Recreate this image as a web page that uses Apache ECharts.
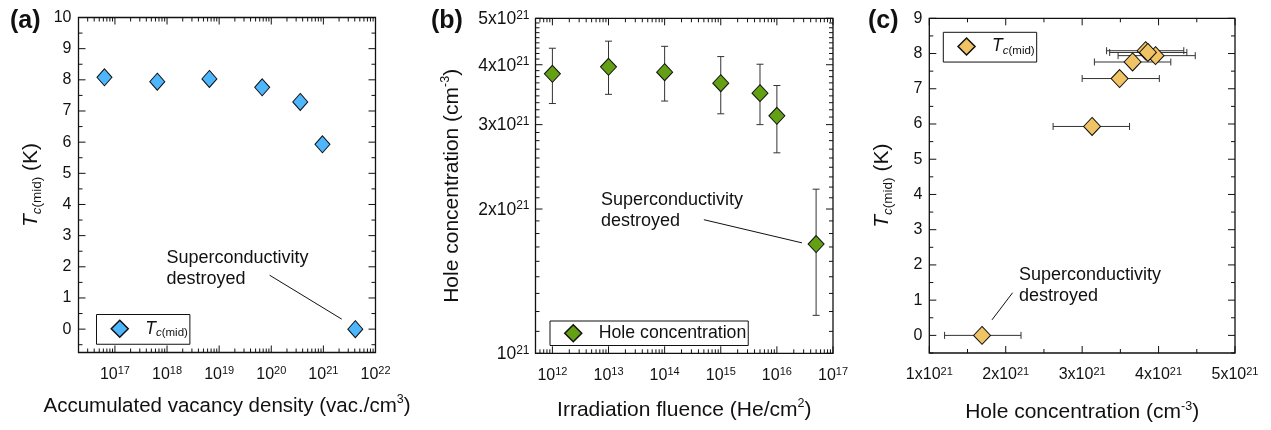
<!DOCTYPE html>
<html>
<head>
<meta charset="utf-8">
<script src="https://cdn.jsdelivr.net/npm/echarts@6/dist/echarts.min.js"></script>
<style>
  html, body { margin: 0; padding: 0; background: #fff; }
  #chart { width: 1271px; height: 430px; }
</style>
</head>
<body>
<div id="chart"></div>
<script>
// values, one entry per sample
const vacancyDensity = [6.3e16, 6.5e17, 6.5e18, 6.7e19, 3.6e20, 9.6e20, 4.1e21]
const fluence = [1e12, 1e13, 1e14, 1e15, 5e15, 1e16, 5e16]
const tcMid = [8.08, 7.94, 8.03, 7.76, 7.29, 5.93, 0]
const holeConc = [3.83e21, 3.96e21, 3.86e21, 3.66e21, 3.49e21, 3.13e21, 1.69e21]
const holeLow = [3.32e21, 3.47e21, 3.36e21, 3.16e21, 3.0e21, 2.62e21, 1.2e21]
const holeHigh = [4.33e21, 4.48e21, 4.37e21, 4.16e21, 4.01e21, 3.62e21, 2.2e21]

// leader lines of the "destroyed" notes (data units)
const noteA = [[9.3e19, 1.73], [2.25e21, 0.32]]
const noteB = [[5e14, 1.9e21], [2.8e16, 1.7e21]]
const noteC = [[2.09e21, 1.21], [1.82e21, 0.44]]

// ticks
const aXMajor = [1e17, 1e18, 1e19, 1e20, 1e21, 1e22]
const aYMajor = [0, 1, 2, 3, 4, 5, 6, 7, 8, 9, 10]
const aYMinor = [-0.5, 0.5, 1.5, 2.5, 3.5, 4.5, 5.5, 6.5, 7.5, 8.5, 9.5]
const bXMajor = [1e12, 1e13, 1e14, 1e15, 1e16, 1e17]
const bYMajor = [1e21, 2e21, 3e21, 4e21, 5e21]
const bYLabels = ['{b|10}{s|21}', '{b|2x10}{s|21}', '{b|3x10}{s|21}', '{b|4x10}{s|21}', '{b|5x10}{s|21}']
const cXMajor = [1e21, 2e21, 3e21, 4e21, 5e21]
const cXMinor = [1.5e21, 2.5e21, 3.5e21, 4.5e21]
const cYMajor = [0, 1, 2, 3, 4, 5, 6, 7, 8, 9]
const cYMinor = [-0.5, 0.5, 1.5, 2.5, 3.5, 4.5, 5.5, 6.5, 7.5, 8.5]

const FONT = '"Liberation Sans", Arial, Helvetica, sans-serif'
const INK = '#111'

// 2..9 x 10^n between lo and hi
const logMinor = (lo, hi) => {
  const out = []
  for (let e = Math.floor(Math.log10(lo)); e < Math.ceil(Math.log10(hi)); e++) {
    for (let m = 2; m <= 9; m++) {
      const v = m * Math.pow(10, e)
      if (v > lo && v < hi) out.push(v)
    }
  }
  return out
}
const aXMinor = logMinor(2e16, 1e22)
const bXMinor = logMinor(5e11, 1e17)
// 8 minor ticks between the 1..5 x 10^21 labels
const bYMinor = []
for (let i = 0; i < bYMajor.length - 1; i++) {
  for (let k = 1; k <= 8; k++) bYMinor.push(bYMajor[i] + (k * (bYMajor[i + 1] - bYMajor[i])) / 9)
}

const isInt = (v) => Math.abs(v - Math.round(v)) < 1e-6
const expLabel = (v) => {
  const e = Math.log10(v)
  return isInt(e) ? `{b|10}{s|${Math.round(e)}}` : ''
}

const tickRich = {
  b: { fontSize: 16, lineHeight: 18, fontFamily: FONT, color: INK },
  s: { fontSize: 11, lineHeight: 11, verticalAlign: 'top', fontFamily: FONT, color: INK },
}
const nameRich = {
  t: { fontSize: 21, lineHeight: 27, fontStyle: 'italic', fontFamily: FONT, color: INK },
  c: { fontSize: 13.5, lineHeight: 14, fontStyle: 'italic', verticalAlign: 'bottom', fontFamily: FONT, color: INK },
  m: { fontSize: 13.5, lineHeight: 14, verticalAlign: 'bottom', fontFamily: FONT, color: INK },
  k: { fontSize: 21, lineHeight: 27, fontFamily: FONT, color: INK },
  s: { fontSize: 12.5, lineHeight: 12, verticalAlign: 'top', fontFamily: FONT, color: INK },
}
const legendRich = {
  p: { width: 12 },
  t: { fontSize: 17.5, lineHeight: 21, fontStyle: 'italic', fontFamily: FONT, color: INK },
  c: { fontSize: 11.5, lineHeight: 12, fontStyle: 'italic', verticalAlign: 'bottom', fontFamily: FONT, color: INK },
  m: { fontSize: 11.5, lineHeight: 12, verticalAlign: 'bottom', fontFamily: FONT, color: INK },
  h: { fontSize: 17.7, lineHeight: 18, fontFamily: FONT, color: INK },
}

const tickSeries = (grid, dir, values, len, ref) => ({
  type: 'custom',
  xAxisIndex: grid,
  yAxisIndex: grid,
  silent: true,
  z: 6,
  data: values.map((v) => (dir === 'x' ? [v, ref] : [ref, v])),
  renderItem: (params, api) => {
    const cs = params.coordSys
    const p = api.coord([api.value(0), api.value(1)])
    const st = { stroke: INK, lineWidth: 1 }
    if (dir === 'x') {
      const b = cs.y + cs.height
      return {
        type: 'group',
        children: [
          { type: 'line', shape: { x1: p[0], y1: b, x2: p[0], y2: b - len }, style: st },
          { type: 'line', shape: { x1: p[0], y1: cs.y, x2: p[0], y2: cs.y + len }, style: st },
        ],
      }
    }
    const r = cs.x + cs.width
    return {
      type: 'group',
      children: [
        { type: 'line', shape: { x1: cs.x, y1: p[1], x2: cs.x + len, y2: p[1] }, style: st },
        { type: 'line', shape: { x1: r, y1: p[1], x2: r - len, y2: p[1] }, style: st },
      ],
    }
  },
})

const noteLine = (pts) => ({
  silent: true,
  symbol: 'none',
  animation: false,
  label: { show: false },
  lineStyle: { color: INK, width: 1, type: 'solid' },
  data: [[{ coord: pts[0] }, { coord: pts[1] }]],
})

const frame = { show: true, borderColor: INK, borderWidth: 1.3, backgroundColor: 'transparent' }
const plain = {
  axisLine: { show: false },
  axisTick: { show: false },
  splitLine: { show: false },
  minorTick: { show: false },
}
const nameStyle = { fontSize: 21, lineHeight: 25, fontFamily: FONT, color: INK, rich: nameRich }

const legendBox = {
  orient: 'horizontal',
  borderColor: INK,
  borderWidth: 1,
  borderRadius: 0,
  selectedMode: false,
  itemWidth: 17,
  itemHeight: 17,
  itemStyle: { borderWidth: 1.5, borderColor: INK },
  textStyle: { rich: legendRich, fontFamily: FONT },
  formatter: (name) => (name === 'Hole concentration' ? '{p| }{h|Hole concentration}' : '{p| }{t|T}{c|c}{m|(mid)}'),
}

const chart = echarts.init(document.getElementById('chart'))

chart.setOption({
  animation: false,
  backgroundColor: '#fff',
  textStyle: { fontFamily: FONT, color: INK },
  grid: [
    { left: 78.5, top: 17.5, width: 297, height: 335, ...frame },
    { left: 535.5, top: 18.3, width: 297.5, height: 335, ...frame },
    { left: 929.3, top: 18.3, width: 305.7, height: 338.4, ...frame },
  ],
  xAxis: [
    {
      gridIndex: 0, type: 'log', logBase: 10, min: 2e16, max: 1e22, ...plain,
      axisLabel: { formatter: expLabel, margin: 13, rich: tickRich, showMinLabel: true, showMaxLabel: true },
      name: 'Accumulated vacancy density (vac./cm{s|3})',
      nameLocation: 'middle', nameGap: 41,
      nameTextStyle: { ...nameStyle, fontSize: 20.5 },
    },
    {
      gridIndex: 1, type: 'log', logBase: 10, min: 5e11, max: 1e17, ...plain,
      axisLabel: { formatter: expLabel, margin: 13, rich: tickRich, showMinLabel: true, showMaxLabel: true },
      name: 'Irradiation fluence (He/cm{s|2})',
      nameLocation: 'middle', nameGap: 44,
      nameTextStyle: nameStyle,
    },
    {
      gridIndex: 2, type: 'value', min: 1e21, max: 5e21, interval: 1e21, ...plain,
      axisLabel: {
        formatter: (v) => `{b|${Math.round(v / 1e21)}x10}{s|21}`,
        margin: 13, rich: tickRich,
      },
      name: 'Hole concentration (cm{s|-3})',
      nameLocation: 'middle', nameGap: 47,
      nameTextStyle: nameStyle,
    },
  ],
  yAxis: [
    {
      gridIndex: 0, type: 'value', min: -0.75, max: 10, interval: 0.25, ...plain,
      axisLabel: { formatter: (v) => (isInt(v) ? String(Math.round(v)) : ''), margin: 7, fontSize: 16, color: INK },
      name: '{t|T}{c|c}{m|(mid)}{k| (K)}',
      nameLocation: 'middle', nameRotate: 90, nameGap: 34,
      nameTextStyle: { fontSize: 21, fontFamily: FONT, color: INK, rich: nameRich },
    },
    {
      gridIndex: 1, type: 'log', logBase: 10, min: 1e21, max: 5e21, ...plain,
      axisLabel: { show: false },
      name: 'Hole concentration (cm{s|-3})',
      nameLocation: 'middle', nameRotate: 90, nameGap: 71,
      nameTextStyle: nameStyle,
    },
    {
      gridIndex: 2, type: 'value', min: -0.5, max: 9, interval: 0.5, ...plain,
      axisLabel: { formatter: (v) => (isInt(v) ? String(Math.round(v)) : ''), margin: 7, fontSize: 16, color: INK },
      name: '{t|T}{c|c}{m|(mid)}{k| (K)}',
      nameLocation: 'middle', nameRotate: 90, nameGap: 34,
      nameTextStyle: { fontSize: 21, fontFamily: FONT, color: INK, rich: nameRich },
    },
  ],
  legend: [
    { ...legendBox, data: ['Tc (a)'], left: 96.5, top: 314.5, padding: [5, 2, 5, 14] },
    { ...legendBox, data: ['Hole concentration'], left: 550, top: 321, padding: [3, 2, 3, 14] },
    { ...legendBox, data: ['Tc (c)'], left: 943.3, top: 32.3, padding: [5, 2, 5, 14] },
  ],
  graphic: [
    { type: 'text', left: 10, top: 9, style: { text: '(a)', fontSize: 25, fontWeight: 'bold', fontFamily: FONT, fill: INK } },
    { type: 'text', left: 431, top: 9, style: { text: '(b)', fontSize: 25, fontWeight: 'bold', fontFamily: FONT, fill: INK } },
    { type: 'text', left: 868, top: 9, style: { text: '(c)', fontSize: 25, fontWeight: 'bold', fontFamily: FONT, fill: INK } },
    { type: 'text', left: 166.5, top: 247.5, style: { text: 'Superconductivity\ndestroyed', fontSize: 18, lineHeight: 21, fontFamily: FONT, fill: INK } },
    { type: 'text', left: 601, top: 189.5, style: { text: 'Superconductivity\ndestroyed', fontSize: 18, lineHeight: 21, fontFamily: FONT, fill: INK } },
    { type: 'text', left: 1019, top: 264.5, style: { text: 'Superconductivity\ndestroyed', fontSize: 18, lineHeight: 21, fontFamily: FONT, fill: INK } },
  ],
  series: [
    // ticks, all pointing inwards like the original plots
    tickSeries(0, 'x', aXMajor, 7, 5),
    tickSeries(0, 'x', aXMinor, 4, 5),
    tickSeries(0, 'y', aYMajor, 7, 1e18),
    tickSeries(0, 'y', aYMinor, 4, 1e18),
    tickSeries(1, 'x', bXMajor, 7, 2e21),
    tickSeries(1, 'x', bXMinor, 4, 2e21),
    tickSeries(1, 'y', bYMajor, 7, 1e14),
    tickSeries(1, 'y', bYMinor, 4, 1e14),
    tickSeries(2, 'x', cXMajor, 7, 1),
    tickSeries(2, 'x', cXMinor, 4, 1),
    tickSeries(2, 'y', cYMajor, 7, 2e21),
    tickSeries(2, 'y', cYMinor, 4, 2e21),
    {
      // tick labels of the log hole-concentration axis
      type: 'custom',
      xAxisIndex: 1,
      yAxisIndex: 1,
      silent: true,
      data: bYMajor.map((v) => [1e14, v]),
      renderItem: (params, api) => {
        const cs = params.coordSys
        const p = api.coord([api.value(0), api.value(1)])
        return {
          type: 'text',
          x: cs.x - 6,
          y: p[1] + 1,
          style: {
            text: bYLabels[params.dataIndex],
            align: 'right',
            verticalAlign: 'middle',
            fill: INK,
            fontSize: 17.5,
            fontFamily: FONT,
            rich: {
              b: { fontSize: 17.5, lineHeight: 20, fontFamily: FONT, fill: INK },
              s: { fontSize: 12, lineHeight: 12, verticalAlign: 'top', fontFamily: FONT, fill: INK },
            },
          },
        }
      },
    },
    {
      type: 'scatter',
      name: 'Tc (a)',
      xAxisIndex: 0,
      yAxisIndex: 0,
      data: vacancyDensity.map((x, i) => [x, tcMid[i]]),
      symbol: 'diamond',
      symbolSize: [15, 17],
      itemStyle: { color: '#4db6fc', borderColor: INK, borderWidth: 1, opacity: 1 },
      z: 4,
      markLine: noteLine(noteA),
    },
    {
      // vertical error bars
      type: 'custom',
      xAxisIndex: 1,
      yAxisIndex: 1,
      silent: true,
      z: 3,
      data: fluence.map((x, i) => [x, holeLow[i], holeHigh[i]]),
      encode: { x: 0, y: [1, 2] },
      renderItem: (params, api) => {
        const lo = api.coord([api.value(0), api.value(1)])
        const hi = api.coord([api.value(0), api.value(2)])
        const st = { stroke: '#333', lineWidth: 1 }
        return {
          type: 'group',
          children: [
            { type: 'line', shape: { x1: lo[0], y1: lo[1], x2: hi[0], y2: hi[1] }, style: st },
            { type: 'line', shape: { x1: lo[0] - 3.5, y1: lo[1], x2: lo[0] + 3.5, y2: lo[1] }, style: st },
            { type: 'line', shape: { x1: hi[0] - 3.5, y1: hi[1], x2: hi[0] + 3.5, y2: hi[1] }, style: st },
          ],
        }
      },
    },
    {
      type: 'scatter',
      name: 'Hole concentration',
      xAxisIndex: 1,
      yAxisIndex: 1,
      data: fluence.map((x, i) => [x, holeConc[i]]),
      symbol: 'diamond',
      symbolSize: [16, 17],
      itemStyle: { color: '#64a014', borderColor: INK, borderWidth: 1, opacity: 1 },
      z: 4,
      markLine: noteLine(noteB),
    },
    {
      // horizontal error bars
      type: 'custom',
      xAxisIndex: 2,
      yAxisIndex: 2,
      silent: true,
      z: 3,
      data: holeConc.map((x, i) => [holeLow[i], holeHigh[i], tcMid[i]]),
      encode: { x: [0, 1], y: 2 },
      renderItem: (params, api) => {
        const lo = api.coord([api.value(0), api.value(2)])
        const hi = api.coord([api.value(1), api.value(2)])
        const st = { stroke: '#333', lineWidth: 1 }
        return {
          type: 'group',
          children: [
            { type: 'line', shape: { x1: lo[0], y1: lo[1], x2: hi[0], y2: hi[1] }, style: st },
            { type: 'line', shape: { x1: lo[0], y1: lo[1] - 3.5, x2: lo[0], y2: lo[1] + 3.5 }, style: st },
            { type: 'line', shape: { x1: hi[0], y1: hi[1] - 3.5, x2: hi[0], y2: hi[1] + 3.5 }, style: st },
          ],
        }
      },
    },
    {
      type: 'scatter',
      name: 'Tc (c)',
      xAxisIndex: 2,
      yAxisIndex: 2,
      data: holeConc.map((x, i) => [x, tcMid[i]]),
      symbol: 'diamond',
      symbolSize: [17, 18],
      itemStyle: { color: '#f0c464', borderColor: INK, borderWidth: 1, opacity: 1 },
      z: 4,
      markLine: noteLine(noteC),
    },
  ],
})
</script>
</body>
</html>
